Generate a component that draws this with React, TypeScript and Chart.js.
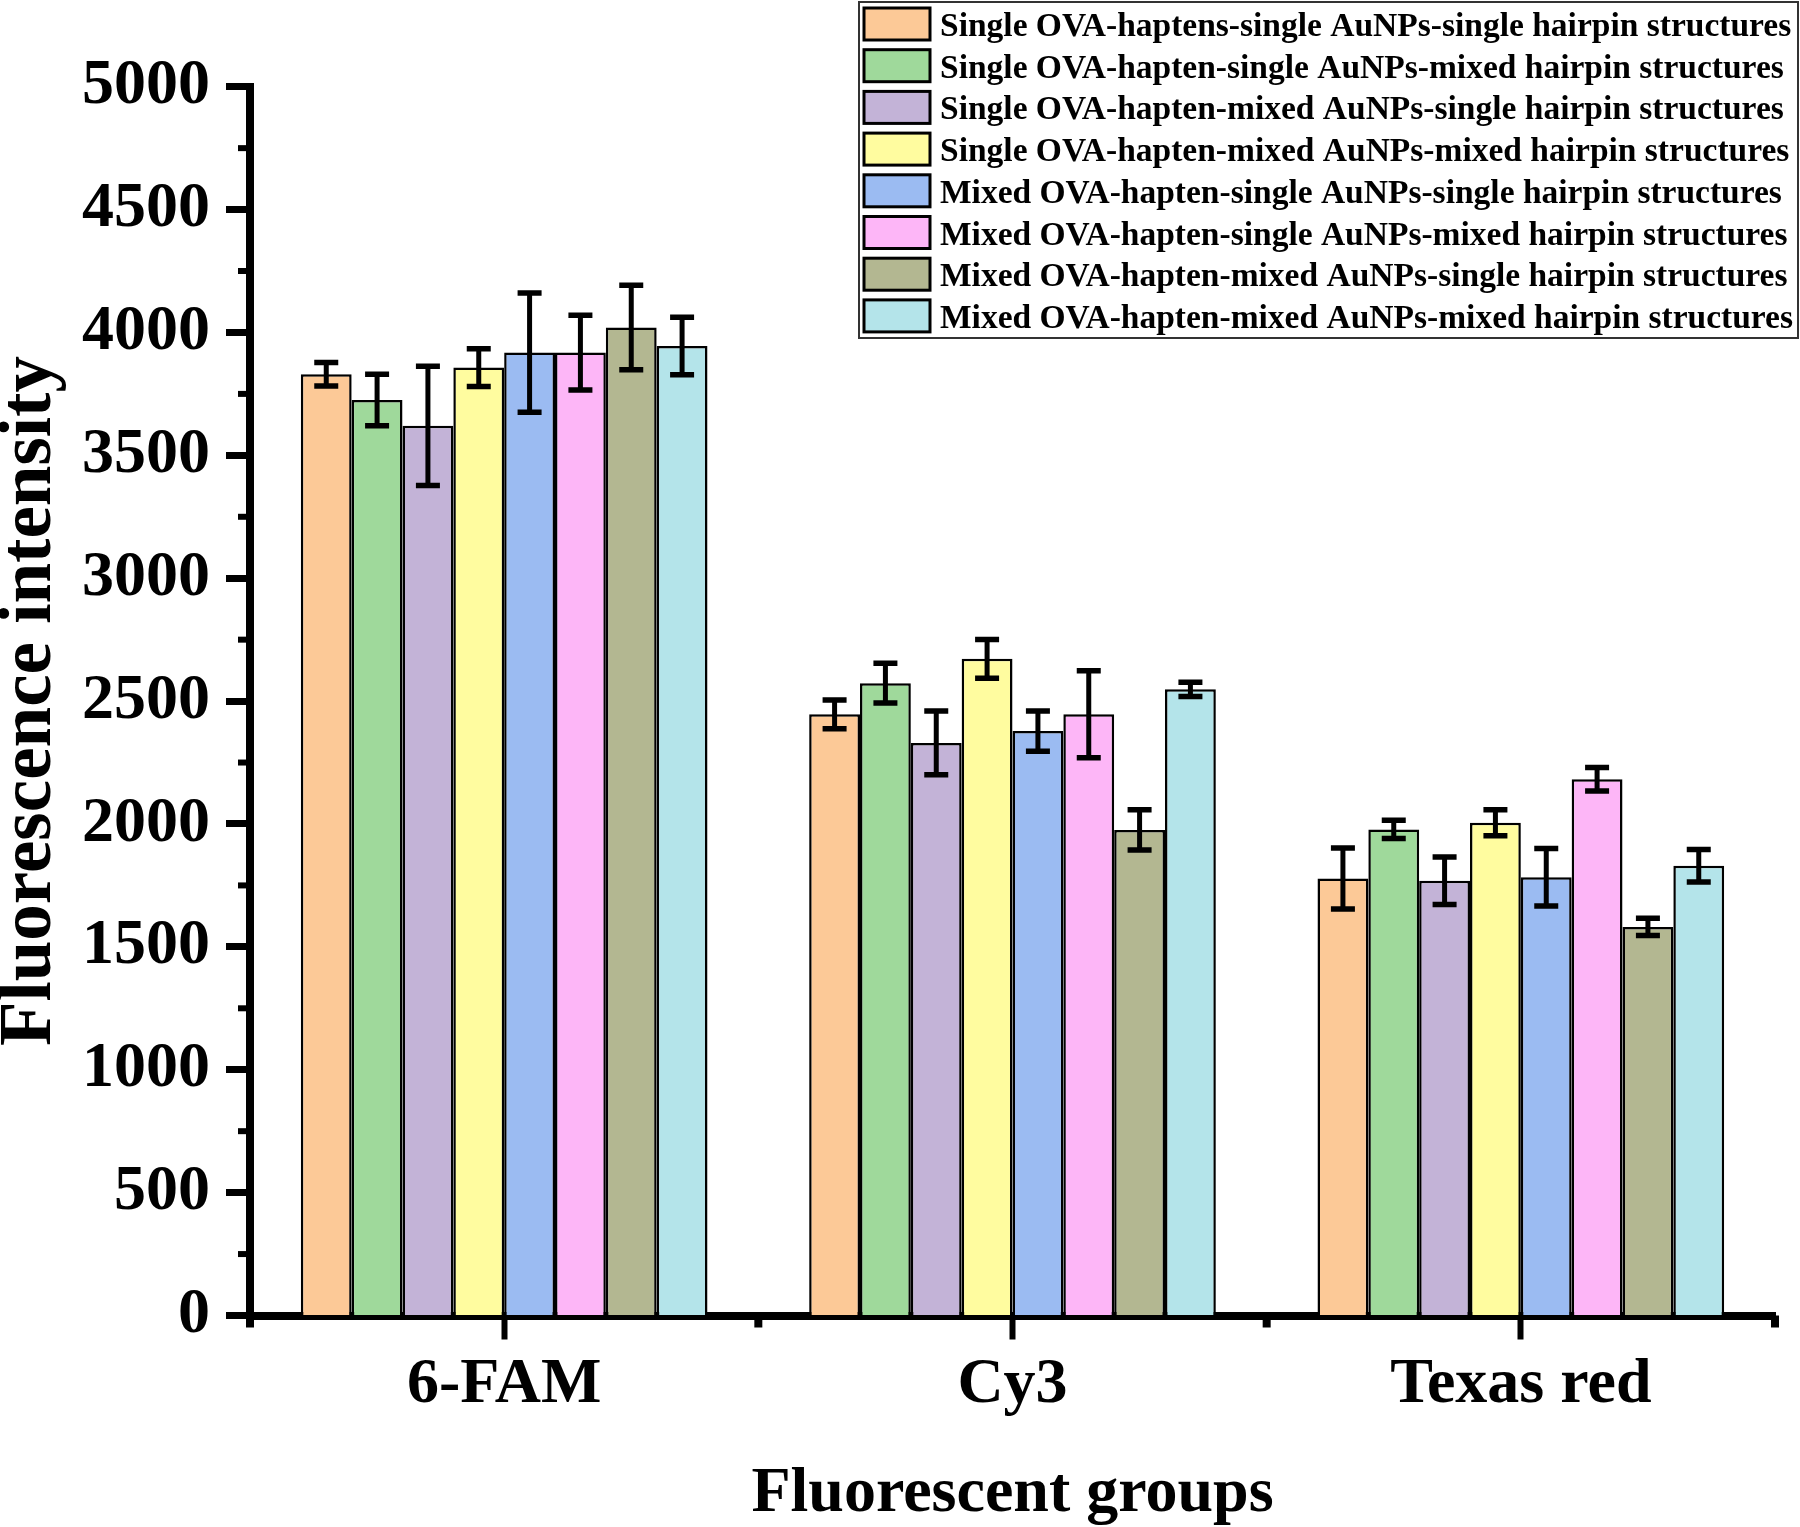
import React, { useEffect, useRef } from 'react';
import { Chart, registerables } from 'chart.js';

Chart.register(...registerables);

// ---------- data ----------
const categories = ['6-FAM', 'Cy3', 'Texas red'];

const seriesLabels = [
  'Single OVA-haptens-single AuNPs-single hairpin structures',
  'Single OVA-hapten-single AuNPs-mixed hairpin structures',
  'Single OVA-hapten-mixed AuNPs-single hairpin structures',
  'Single OVA-hapten-mixed AuNPs-mixed hairpin structures',
  'Mixed OVA-hapten-single AuNPs-single hairpin structures',
  'Mixed OVA-hapten-single AuNPs-mixed hairpin structures',
  'Mixed OVA-hapten-mixed AuNPs-single hairpin structures',
  'Mixed OVA-hapten-mixed AuNPs-mixed hairpin structures',
];

const seriesColors = [
  '#FCC997', '#9FD99B', '#C3B3D7', '#FFFC9F',
  '#9BBBF2', '#FDB6F7', '#B3B791', '#B4E4EA',
];

// means per series (6-FAM, Cy3, Texas red)
const meansA = [3830, 2446, 1778];
const meansB = [3725, 2573, 1978];
const meansC = [3620, 2330, 1769];
const meansD = [3857, 2672, 2005];
const meansE = [3918, 2378, 1783];
const meansF = [3918, 2446, 2182];
const meansG = [4020, 1976, 1581];
const meansH = [3945, 2548, 1830];

// error (± half range) per series
const errorsA = [48, 58, 124];
const errorsB = [105, 81, 37];
const errorsC = [243, 130, 97];
const errorsD = [77, 79, 53];
const errorsE = [243, 82, 117];
const errorsF = [152, 177, 48];
const errorsG = [172, 82, 35];
const errorsH = [117, 29, 66];

const allMeans = [meansA, meansB, meansC, meansD, meansE, meansF, meansG, meansH];
const allErrors = [errorsA, errorsB, errorsC, errorsD, errorsE, errorsF, errorsG, errorsH];

const yMin = 0;
const yMax = 5000;
const yMajorStep = 500;
const yMinorStep = 250;

const xTitle = 'Fluorescent groups';
const yTitle = 'Fluorescence intensity';

const FONT = '"Liberation Serif", "Times New Roman", serif';

// ---------- plugins ----------
const errorBarPlugin = {
  id: 'errorBars',
  afterDatasetsDraw(chart: any) {
    const { ctx } = chart;
    const y = chart.scales.y;
    chart.data.datasets.forEach((ds: any, i: number) => {
      const meta = chart.getDatasetMeta(i);
      meta.data.forEach((bar: any, j: number) => {
        const v = ds.data[j];
        const e = ds.errors[j];
        const x = bar.x;
        const yt = y.getPixelForValue(v + e);
        const yb = y.getPixelForValue(v - e);
        ctx.save();
        ctx.strokeStyle = '#000';
        ctx.lineCap = 'butt';
        ctx.lineWidth = 5;
        ctx.beginPath();
        ctx.moveTo(x, yt);
        ctx.lineTo(x, yb);
        ctx.stroke();
        ctx.lineWidth = 5.5;
        ctx.beginPath();
        ctx.moveTo(x - 12, yt);
        ctx.lineTo(x + 12, yt);
        ctx.moveTo(x - 12, yb);
        ctx.lineTo(x + 12, yb);
        ctx.stroke();
        ctx.restore();
      });
    });
  },
};

const minorTickPlugin = {
  id: 'minorTicks',
  afterDraw(chart: any) {
    const { ctx, chartArea } = chart;
    const y = chart.scales.y;
    const x = chart.scales.x;
    ctx.save();
    ctx.strokeStyle = '#000';
    ctx.lineCap = 'butt';
    // y minor ticks
    ctx.lineWidth = 6;
    for (let v = yMin + yMinorStep; v < yMax; v += yMajorStep) {
      const py = y.getPixelForValue(v);
      ctx.beginPath();
      ctx.moveTo(chartArea.left - 12, py);
      ctx.lineTo(chartArea.left, py);
      ctx.stroke();
    }
    // x category boundary ticks
    ctx.lineWidth = 8;
    for (let j = 0; j <= categories.length; j++) {
      const px = x.getPixelForValue(j - 0.5);
      ctx.beginPath();
      ctx.moveTo(px, chartArea.bottom);
      ctx.lineTo(px, chartArea.bottom + 12);
      ctx.stroke();
    }
    ctx.restore();
  },
};

const legendPlugin = {
  id: 'boxLegend',
  afterDraw(chart: any) {
    const { ctx } = chart;
    const left = 859;
    const top = 2;
    const width = 939;
    const height = 336;
    const pitch = 41.7;
    ctx.save();
    ctx.fillStyle = '#fff';
    ctx.fillRect(left, top, width, height);
    ctx.lineWidth = 2;
    ctx.strokeStyle = '#333';
    ctx.strokeRect(left, top, width, height);
    ctx.font = `bold 33.5px ${FONT}`;
    ctx.textBaseline = 'alphabetic';
    ctx.textAlign = 'left';
    chart.data.datasets.forEach((ds: any, i: number) => {
      const sy = 8 + pitch * i;
      ctx.fillStyle = ds.backgroundColor;
      ctx.fillRect(864, sy, 66, 32);
      ctx.lineWidth = 3;
      ctx.strokeStyle = '#000';
      ctx.strokeRect(864, sy, 66, 32);
      ctx.fillStyle = '#000';
      ctx.fillText(ds.label, 940, sy + 28);
    });
    ctx.restore();
  },
};

export default function App() {
  const canvasRef = useRef<HTMLCanvasElement | null>(null);

  useEffect(() => {
    const canvas = canvasRef.current;
    if (!canvas) return;
    const datasets = seriesLabels.map((label, i) => ({
      label,
      data: allMeans[i],
      errors: allErrors[i],
      backgroundColor: seriesColors[i],
      borderColor: '#000',
      borderWidth: 2.5,
      categoryPercentage: 0.8,
      barPercentage: 1.0,
    }));

    const chart = new Chart(canvas, {
      type: 'bar',
      data: { labels: categories, datasets },
      plugins: [errorBarPlugin, minorTickPlugin, legendPlugin],
      options: {
        animation: false,
        responsive: false,
        devicePixelRatio: 1,
        layout: { padding: { left: 0, top: 86.7, right: 25, bottom: 0 } },
        plugins: {
          legend: { display: false },
          tooltip: { enabled: false },
          title: { display: false },
        },
        scales: {
          x: {
            z: 1,
            offset: true,
            grid: {
              offset: false,
              drawOnChartArea: false,
              drawTicks: true,
              tickLength: 24,
              tickWidth: 6,
              tickColor: '#000',
            },
            border: { display: true, color: '#000', width: 8 },
            ticks: {
              color: '#000',
              padding: 8,
              maxRotation: 0,
              font: { family: FONT, size: 64, weight: 'bold' },
            },
            title: {
              display: true,
              text: xTitle,
              color: '#000',
              padding: 0,
              font: { family: FONT, size: 64, weight: 'bold', lineHeight: 1.02 },
            },
            afterFit: (scale: any) => {
              scale.height = 1527 - 1315.5;
            },
          },
          y: {
            z: 1,
            min: yMin,
            max: yMax,
            grid: {
              drawOnChartArea: false,
              drawTicks: true,
              tickLength: 24,
              tickWidth: 7,
              tickColor: '#000',
            },
            border: { display: true, color: '#000', width: 8 },
            ticks: {
              stepSize: yMajorStep,
              color: '#000',
              padding: 16,
              font: { family: FONT, size: 64, weight: 'bold' },
              callback: (v: any) => String(v),
            },
            title: {
              display: true,
              text: yTitle,
              color: '#000',
              padding: 0,
              font: { family: FONT, size: 73, weight: 'bold', lineHeight: 0.84 },
            },
            afterFit: (scale: any) => {
              scale.width = 250;
            },
          },
        },
      } as any,
    });

    return () => chart.destroy();
  }, []);

  return (
    <div style={{ position: 'absolute', left: 0, top: 0, width: 1800, height: 1527, background: '#fff' }}>
      <canvas ref={canvasRef} width={1800} height={1527} style={{ display: 'block' }} />
    </div>
  );
}
